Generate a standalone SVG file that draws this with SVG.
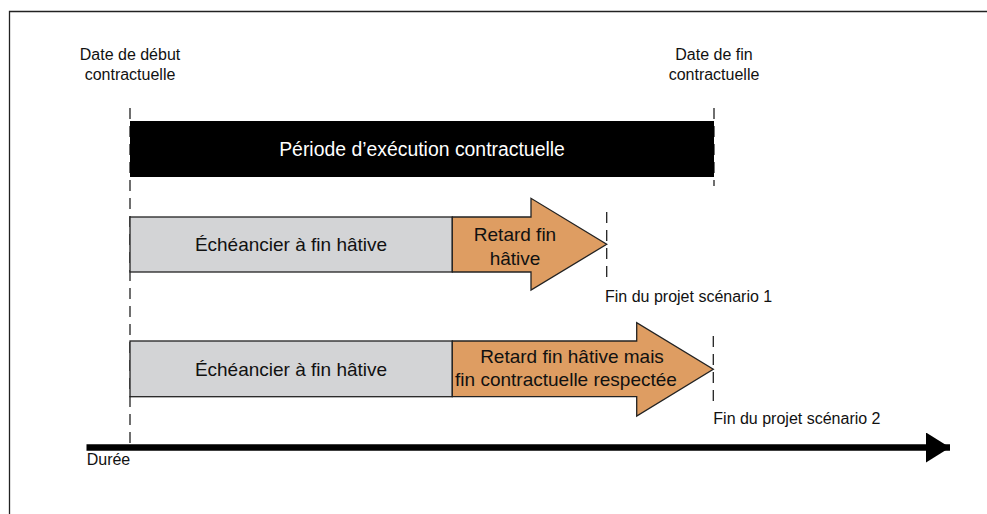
<svg xmlns="http://www.w3.org/2000/svg" width="987" height="514" viewBox="0 0 987 514">
<style>
text{font-family:"Liberation Sans",Arial,sans-serif;fill:#111}
.lbl{font-size:16px}
.box{font-size:19px}
.dash{stroke:#222;stroke-width:1.3;stroke-dasharray:11 7;fill:none}
.gray{fill:#D3D4D6;stroke:#222;stroke-width:1.3}
.orange{fill:#DE9D62;stroke:#222;stroke-width:1.3}
</style>
<defs>
<marker id="axisHead" markerUnits="userSpaceOnUse" markerWidth="24" markerHeight="30" refX="24" refY="15" orient="auto">
<path d="M0,0 L24,15 L0,30 Z" fill="#000"/>
</marker>
</defs>
<rect width="987" height="514" fill="#fff"/>
<path d="M9.5,514 V11.5 H987" fill="none" stroke="#222" stroke-width="1.3"/>
<g id="connectors">
<line class="dash" x1="130" y1="108" x2="130" y2="443"/>
<line class="dash" x1="714" y1="108" x2="714" y2="186"/>
<line class="dash" x1="606.7" y1="212" x2="606.7" y2="280"/>
<line class="dash" x1="713.3" y1="336" x2="713.3" y2="402"/>
<line x1="86.5" y1="447.5" x2="950" y2="447.5" stroke="#000" stroke-width="6.5" marker-end="url(#axisHead)"/>
</g>
<g id="label-debut">
<text class="lbl" x="130" y="60.3" text-anchor="middle">Date de début</text>
<text class="lbl" x="130" y="80.3" text-anchor="middle">contractuelle</text>
</g>
<g id="label-fin">
<text class="lbl" x="714" y="60.3" text-anchor="middle">Date de fin</text>
<text class="lbl" x="714" y="80.3" text-anchor="middle">contractuelle</text>
</g>
<g id="periode">
<rect x="130" y="121" width="584" height="56" fill="#000"/>
<text class="box" x="422" y="155.8" text-anchor="middle" style="fill:#fff;font-size:19.4px">Période d’exécution contractuelle</text>
</g>
<g id="echeancier1">
<rect class="gray" x="130" y="217" width="322.3" height="55"/>
<text class="box" x="291" y="251" text-anchor="middle">Échéancier à fin hâtive</text>
</g>
<g id="retard1">
<polygon class="orange" points="452.3,217 531,217 531,198.3 606.7,244.3 531,290 531,272 452.3,272"/>
<text class="box" x="515" y="241" text-anchor="middle">Retard fin</text>
<text class="box" x="515" y="265" text-anchor="middle">hâtive</text>
</g>
<g id="fin1">
<text class="lbl" x="605" y="301.5">Fin du projet scénario 1</text>
</g>
<g id="echeancier2">
<rect class="gray" x="130" y="341" width="322.3" height="55.7"/>
<text class="box" x="291" y="375.5" text-anchor="middle">Échéancier à fin hâtive</text>
</g>
<g id="retard2">
<polygon class="orange" points="452.3,341 636.7,341 636.7,322.7 713.3,369.3 636.7,416 636.7,396.7 452.3,396.7"/>
<text class="box" x="572" y="363.3" text-anchor="middle">Retard fin hâtive mais</text>
<text class="box" x="566" y="386" text-anchor="middle">fin contractuelle respectée</text>
</g>
<g id="fin2">
<text class="lbl" x="713.3" y="424">Fin du projet scénario 2</text>
</g>
<g id="duree">
<text class="lbl" x="86.7" y="465">Durée</text>
</g>
</svg>
